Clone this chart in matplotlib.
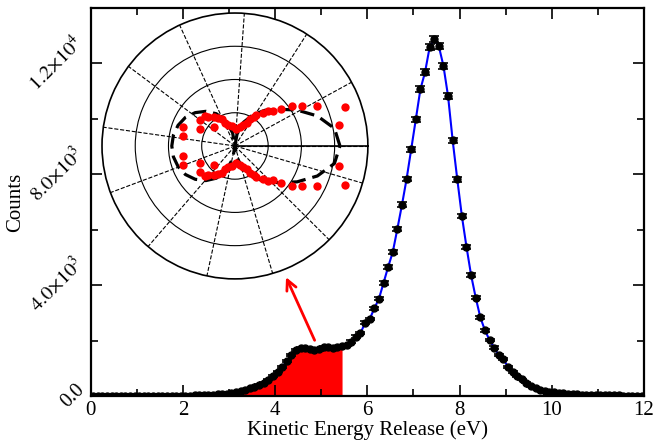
import numpy as np
import matplotlib
matplotlib.use('Agg')
import matplotlib.pyplot as plt
from matplotlib.ticker import MultipleLocator, FixedLocator

plt.rcParams['font.family'] = ['Liberation Serif', 'DejaVu Serif']
plt.rcParams['mathtext.fontset'] = 'stix'

# спектр KER: центры бинов 0.05..11.95 эВ, шаг 0.1
energy = np.round(np.arange(0.05, 12.0, 0.1), 2)
counts = [0, 0, 0, 0, 0, 0, 0, 0, 0, 0,
          0, 0, 0, 0, 0, 0, 0, 0, 0, 0,
          10, 15, 20, 25, 30, 40, 50, 60, 75, 90,
          110, 140, 180, 230, 280, 340, 400, 480, 590, 720,
          880, 1050, 1250, 1480, 1650, 1730, 1730, 1680, 1650, 1680,
          1770, 1760, 1740, 1780, 1790, 1850, 1960, 2140, 2270, 2640,
          2780, 3160, 3510, 4080, 4660, 5190, 6030, 6900, 7830, 8900,
          9980, 11070, 11680, 12580, 12880, 12620, 11910, 10820, 9220, 7820,
          6490, 5380, 4360, 3550, 2840, 2370, 2020, 1750, 1470, 1320,
          1060, 870, 710, 600, 480, 360, 280, 230, 190, 160,
          130, 110, 95, 80, 70, 60, 50, 45, 40, 35,
          30, 28, 25, 22, 20, 18, 16, 15, 14, 12]
counts = np.array(counts, dtype=float)
errors = np.sqrt(counts)  # пуассоновские ошибки

fill_max = 5.45  # закрашенная область (выбранный KER)

ytick_vals = [0, 4000, 8000, 12000]
ytick_labels = ['0.0', r'$4.0{\times}10^{3}$', r'$8.0{\times}10^{3}$', r'$1.2{\times}10^{4}$']

# угловое распределение (верхняя половина, зеркалится вниз)
pol_theta = [19.6, 11.2, 25.8, 30.7, 34.9, 38.7, 41.9, 46.1, 50.0, 55.2,
             57.5, 61.2, 62.8, 69.4, 74.6, 85.6, 99.5, 107.4, 113.8, 116.6,
             120.8, 126.7, 132.3, 135.0, 143.1, 153.4, 138.8, 159.6, 169.1]
pol_r = [0.881, 0.795, 0.689, 0.587, 0.524, 0.448, 0.389, 0.361, 0.327, 0.280,
         0.261, 0.228, 0.197, 0.171, 0.150, 0.130, 0.152, 0.168, 0.186, 0.224,
         0.244, 0.268, 0.297, 0.318, 0.325, 0.291, 0.213, 0.416, 0.397]

# кривая подгонки
fit_theta = [0, 10, 20, 30, 40, 50, 60, 70, 80, 90, 100, 110, 120, 130, 140, 150, 160, 170, 180]
fit_r = [0.79, 0.76, 0.66, 0.54, 0.43, 0.35, 0.27, 0.19, 0.09, 0.0,
         0.10, 0.20, 0.28, 0.34, 0.39, 0.43, 0.455, 0.47, 0.475]

fig = plt.figure(figsize=(6.68, 4.45), dpi=100)
ax = fig.add_axes([0.136, 0.110, 0.828, 0.872])

sel = energy <= fill_max
ax.fill_between(energy[sel], 0, counts[sel], color='red', lw=0, zorder=1)
ax.plot(energy, counts, color='blue', lw=1.5, zorder=2)
ax.errorbar(energy, counts, yerr=errors, fmt='o', color='black', ms=5,
            elinewidth=1.2, capsize=3.5, capthick=1.2, zorder=3)

ax.annotate('', xy=(4.21, 4380), xytext=(4.88, 1920),
            arrowprops=dict(arrowstyle='->', color='red', lw=2, mutation_scale=18))

ax.set_xlim(0, 12)
ax.set_ylim(0, 14000)
ax.xaxis.set_major_locator(MultipleLocator(2))
ax.xaxis.set_minor_locator(MultipleLocator(1))
ax.yaxis.set_major_locator(FixedLocator(ytick_vals))
ax.yaxis.set_minor_locator(MultipleLocator(2000))
ax.set_yticklabels(ytick_labels, rotation=45, rotation_mode='default', ha='right', va='center')
ax.tick_params(which='both', direction='in', top=True, right=True, labelsize=15, width=1.2)
ax.tick_params(which='major', length=8)
ax.tick_params(which='minor', length=5)
ax.tick_params(axis='y', pad=2, labelsize=14.5)
for s in ax.spines.values():
    s.set_linewidth(1.6)
ax.set_xlabel('Kinetic Energy Release (eV)', fontsize=15, labelpad=0)
ax.set_ylabel('Counts', fontsize=15)
ax.yaxis.set_label_coords(-0.118, 0.5)

# полярная вставка
pax = fig.add_axes([0.1527, 0.373, 0.398, 0.598], projection='polar')
th = np.deg2rad(pol_theta)
pax.plot(th, pol_r, 'o', color='red', ms=6, mec='none', zorder=4)
pax.plot(-th, pol_r, 'o', color='red', ms=6, mec='none', zorder=4)
ft = np.deg2rad(fit_theta)
pax.plot(np.concatenate([ft, -ft[::-1]]), fit_r + fit_r[::-1], color='black', lw=2.3,
         dashes=(4.5, 2.2), zorder=3)
pax.plot([0, 0], [0, 1], color='black', lw=1.2, zorder=2)
pax.set_ylim(0, 1)
pax.set_xticks(np.arange(0, 6.3, 0.5))
pax.set_yticks([0.25, 0.5, 0.75])
pax.set_xticklabels([])
pax.set_yticklabels([])
pax.xaxis.grid(True, linestyle='--', color='black', lw=0.8)
pax.yaxis.grid(True, linestyle='-', color='black', lw=0.8)
pax.spines['polar'].set_linewidth(1.2)

fig.savefig('out.png', dpi=100)
